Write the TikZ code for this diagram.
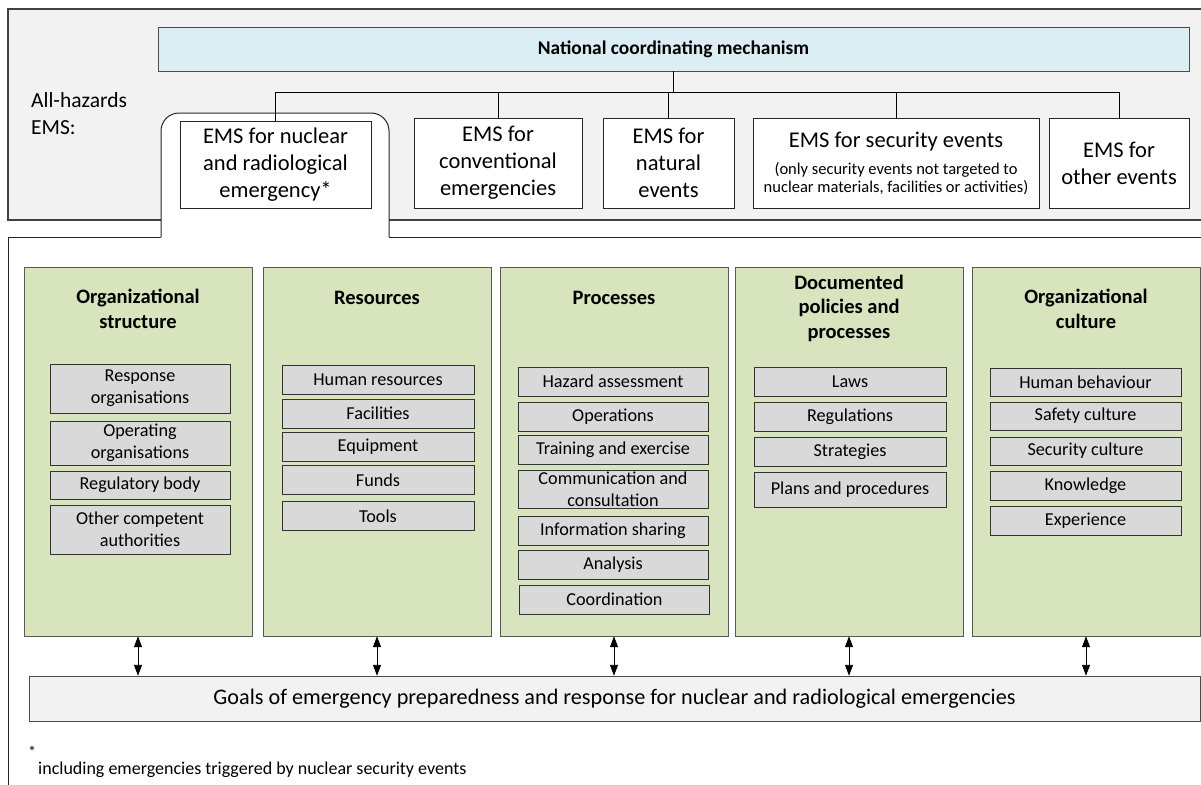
\documentclass[tikz,border=0pt]{standalone}
\usepackage{fontspec}
\setmainfont{Carlito}
\usepackage{tikz}
\usetikzlibrary{positioning,calc,arrows.meta}

\definecolor{panelgray}{HTML}{F2F2F2}
\definecolor{natblue}{HTML}{DAEEF3}
\definecolor{colgreen}{HTML}{D7E4BD}
\definecolor{itemgray}{HTML}{D9D9D9}

\begin{document}
\begin{tikzpicture}[x=1pt,y=-1pt,
    ems/.style={draw=black!85, fill=white, align=center, inner sep=0pt, minimum height=90pt, font=\fontsize{22.5}{27}\selectfont},
    column/.style={draw=black!65, fill=colgreen, minimum width=228pt, minimum height=369pt, inner sep=0pt},
    head/.style={align=center, inner sep=0pt, font=\fontsize{20.5}{24.5}\selectfont\bfseries},
    item/.style={draw=black!80, fill=itemgray, align=center, inner sep=0pt, font=\fontsize{18.2}{22}\selectfont},
    link/.style={{Triangle[length=11pt,width=8pt]}-{Triangle[length=11pt,width=8pt]}, line width=0.9pt}
]
    \useasboundingbox (0,0) rectangle (1201,784);

    % Upper panel: all-hazards EMS
    \filldraw[fill=panelgray, draw=black!75, line width=1.1pt] (8,9) rectangle (1210,220);
    \node[draw=black!70, fill=natblue, minimum width=1031pt, minimum height=44pt, inner sep=0pt,
          font=\fontsize{19.4}{23}\selectfont\bfseries] (nat) at (673.5,49) {National coordinating mechanism};
    \node[anchor=west, align=left, inner sep=0pt, font=\fontsize{21.5}{27}\selectfont] (allhaz) at (31,114) {All-hazards\\EMS:};

    % Tab and lower frame
    \fill[white, rounded corners=18pt] (161,240) -- (161,113) -- (389,113) -- (389,240) -- cycle;
    \draw[black!85, line width=1pt, rounded corners=18pt] (161,237) -- (161,113) -- (389,113) -- (389,237);
    \draw[black!85, line width=1pt] (8,800) -- (8,237) -- (161,237);
    \draw[black!85, line width=1pt] (389,237) -- (1210,237);

    % EMS boxes
    \node[ems, minimum width=191pt, minimum height=87pt] (ems1) at (275.5,164.5) {EMS for nuclear\\and radiological\\emergency*};
    \node[ems, minimum width=168pt] (ems2) at (498,163) {EMS for\\conventional\\emergencies};
    \node[ems, minimum width=131pt] (ems3) at (668.5,163) {EMS for\\natural\\events};
    \node[ems, minimum width=286pt] (ems4) at (896,163) {EMS for security events\\
        {\fontsize{16.5}{18}\selectfont (only security events not targeted to}\\[-9pt]
        {\fontsize{16.5}{18}\selectfont nuclear materials, facilities or activities)}};
    \node[ems, minimum width=140pt] (ems5) at (1119,163) {EMS for\\other events};

    % Coordination lines
    \coordinate (bus) at (0,92);
    \draw[line width=1pt] (nat.south) -- (nat.south |- bus);
    \draw[line width=1pt] (ems1.north) -- (ems1.north |- bus) -- (ems5.north |- bus) -- (ems5.north);
    \foreach \e in {ems2,ems3,ems4}
        \draw[line width=1pt] (\e.north) -- (\e.north |- bus);

    % Columns
    \node[column] (colorg) at (138,451.5) {};
    \node[column] (colres) at (377,451.5) {};
    \node[column] (colproc) at (614,451.5) {};
    \node[column] (coldoc) at (849,451.5) {};
    \node[column] (colcult) at (1086,451.5) {};

    \node[head] (headorg) at (138,309) {Organizational\\structure};
    \node[head] (headres) at (377,298) {Resources};
    \node[head] (headproc) at (614,298) {Processes};
    \node[head] (headdoc) at (849,308) {Documented\\policies and\\processes};
    \node[head] (headcult) at (1086,309) {Organizational\\culture};

    % Organizational structure
    \node[item, minimum width=180pt, minimum height=49pt] (orgresp) at (140,388.5) {Response\\organisations};
    \node[item, minimum width=180pt, minimum height=44pt] (orgoper) at (140,443) {Operating\\organisations};
    \node[item, minimum width=180pt, minimum height=28pt] (orgreg) at (140,485) {Regulatory body};
    \node[item, minimum width=180pt, minimum height=49pt] (orgother) at (140,529.5) {Other competent\\authorities};

    % Resources
    \node[item, minimum width=192pt, minimum height=29pt] (reshum) at (378,379.5) {Human resources};
    \node[item, minimum width=192pt, minimum height=29pt] (resfac) at (378,413.5) {Facilities};
    \node[item, minimum width=192pt, minimum height=29pt] (resequ) at (378,446.5) {Equipment};
    \node[item, minimum width=192pt, minimum height=29pt] (resfund) at (378,480) {Funds};
    \node[item, minimum width=192pt, minimum height=29pt] (restool) at (378,516) {Tools};

    % Processes
    \node[item, minimum width=190pt, minimum height=29pt] (prochaz) at (613,381.5) {Hazard assessment};
    \node[item, minimum width=190pt, minimum height=29pt] (procops) at (613,416.5) {Operations};
    \node[item, minimum width=190pt, minimum height=29pt] (proctrain) at (613,450) {Training and exercise};
    \node[item, minimum width=190pt, minimum height=38pt] (proccomm) at (613,489) {Communication and\\consultation};
    \node[item, minimum width=190pt, minimum height=29pt] (procinfo) at (613,530.5) {Information sharing};
    \node[item, minimum width=190pt, minimum height=29pt] (procana) at (613,565) {Analysis};
    \node[item, minimum width=190pt, minimum height=29pt] (proccoord) at (614.5,599.5) {Coordination};

    % Documented policies and processes
    \node[item, minimum width=192pt, minimum height=29pt] (doclaws) at (850,381.5) {Laws};
    \node[item, minimum width=192pt, minimum height=29pt] (docreg) at (850,416.5) {Regulations};
    \node[item, minimum width=192pt, minimum height=29pt] (docstrat) at (850,451.5) {Strategies};
    \node[item, minimum width=192pt, minimum height=35pt] (docplan) at (850,489.5) {Plans and procedures};

    % Organizational culture
    \node[item, minimum width=191pt, minimum height=28pt] (culthum) at (1085.5,382) {Human behaviour};
    \node[item, minimum width=191pt, minimum height=28pt] (cultsaf) at (1085.5,416) {Safety culture};
    \node[item, minimum width=191pt, minimum height=28pt] (cultsec) at (1085.5,451) {Security culture};
    \node[item, minimum width=191pt, minimum height=29pt] (cultknow) at (1085.5,485.5) {Knowledge};
    \node[item, minimum width=191pt, minimum height=29pt] (cultexp) at (1085.5,520.5) {Experience};

    % Goals
    \node[draw=black!70, fill=panelgray, minimum width=1171pt, minimum height=45pt, inner sep=0pt,
          font=\fontsize{22.2}{26}\selectfont] (goals) at (614.5,698.5)
          {Goals of emergency preparedness and response for nuclear and radiological emergencies};
    \foreach \c in {colorg,colres,colproc,coldoc,colcult}
        \draw[link] (\c.south) -- (\c.south |- goals.north);

    % Footnote
    \node[anchor=west, inner sep=0pt, font=\fontsize{16}{18}\selectfont] (fnmark) at (28,752) {*};
    \node[anchor=west, inner sep=0pt, font=\fontsize{18}{20}\selectfont] (fntext) at (38,770) {including emergencies triggered by nuclear security events};
\end{tikzpicture}
\end{document}
